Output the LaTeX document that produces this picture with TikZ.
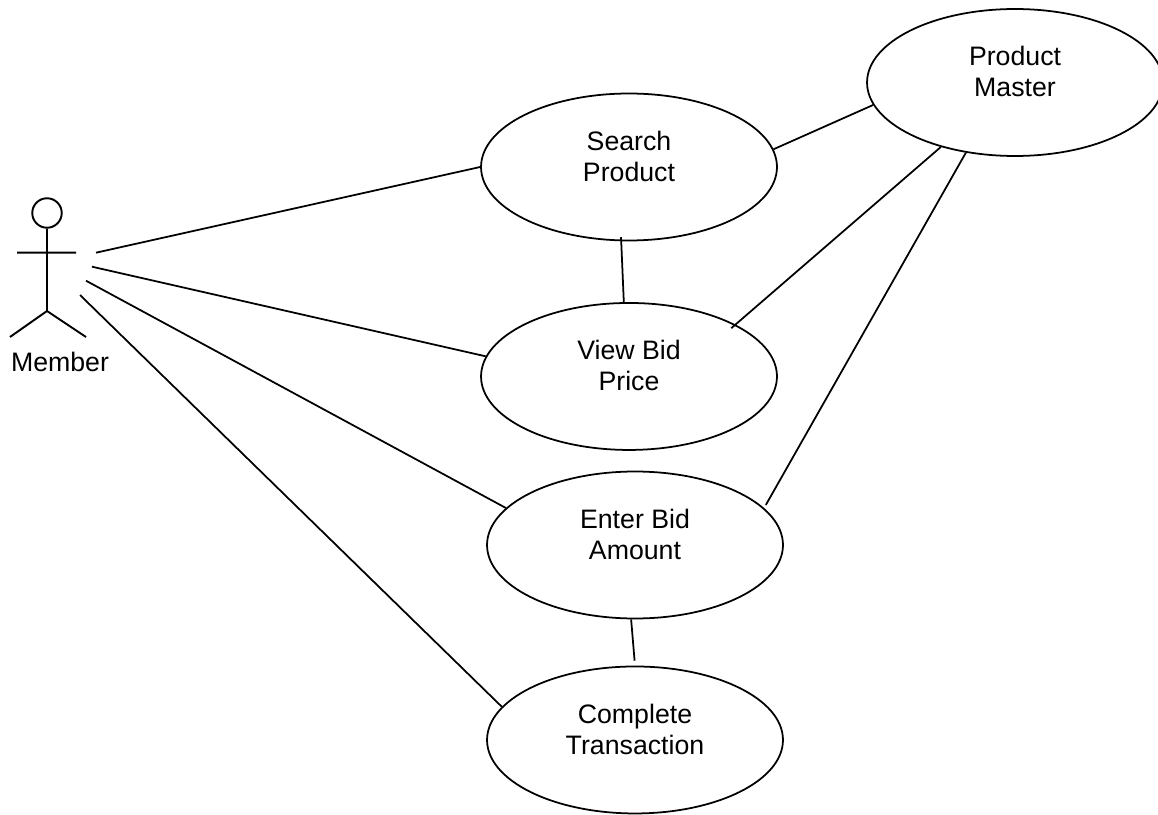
\documentclass[tikz,border=0pt]{standalone}
\usepackage{fontspec}
\setmainfont{Liberation Sans}
\usetikzlibrary{shapes.geometric}
\tikzset{
usecase/.style={draw, ellipse, line width=1pt, minimum width=5.92cm, minimum height=2.94cm, inner sep=0pt, align=center, font=\fontsize{15.2}{17.6}\selectfont, text depth=12.6pt}, % one oval of the diagram
stick/.style={line width=1.1pt}, % the little man
link/.style={line width=1pt}, % lines between the ovals
}

\begin{document}
\begin{tikzpicture}[x=0.02cm, y=-0.02cm]
        \useasboundingbox (0,0) rectangle (1158,814);

        \node[usecase] (search) at (629,167) {Search\\Product};
        \node[usecase, below of=search, node distance=4.19cm] (view) {View Bid\\Price};
        \node[usecase] (enter) at (635,545) {Enter Bid\\Amount};
        \node[usecase, below of=enter, node distance=3.9cm] (complete) {Complete\\Transaction};
        \node[usecase] (master) at (1015,82.5) {Product\\Master};

        % the actor
        \node[draw, circle, stick, minimum size=0.59cm, inner sep=0pt] (head) at (47,213) {};
        \coordinate (hip) at (47,311);
        \coordinate (handl) at (17,252.7);
        \coordinate (handr) at (76,252.7);
        \coordinate (footl) at (10,337);
        \coordinate (footr) at (86,337);
        \node[font=\fontsize{15.2}{17.6}\selectfont] (member) at (60,362) {Member};
        \draw[stick] (head) -- (hip)
        (handl) -- (handr)
        (footl) -- (hip) -- (footr);

        % free ends next to the actor
        \coordinate (a1) at (96,252.7);
        \coordinate (a2) at (92,266.7);
        \coordinate (a3) at (86,280.7);
        \coordinate (a4) at (80,295);

        \draw[link] (a1) edge (search.180)
        (a2) edge (view.172)
        (a3) edge (enter.164.4)
        (a4) edge (complete.166)
        (search.264.5) edge[shorten <=-2.3pt] (view.94)
        (search.7) edge (master.189.3)
        (view.26.6) edge[shorten <=-3.2pt] (master.221.5)
        (enter.16.7) edge[shorten <=2pt] (master.235.2)
        (enter.267.5) edge[shorten >=2.8pt] (complete.90.5);
      \end{tikzpicture}
\end{document}
